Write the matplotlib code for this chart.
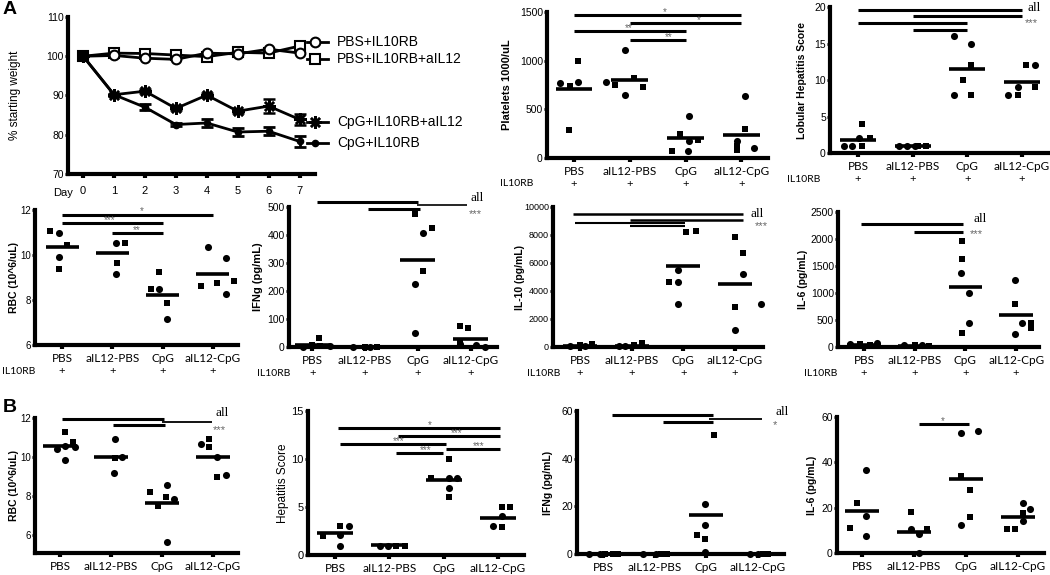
import numpy as np
import matplotlib
matplotlib.use('Agg')
import matplotlib.pyplot as plt

plt.rcParams['font.family'] = ['Liberation Sans', 'DejaVu Sans']

W, H = 1050, 575
groups = ['PBS', 'aIL12-PBS', 'CpG', 'aIL12-CpG']

# --- weight curve (% starting weight) ---
days = list(range(8))
wt_pbs = [100, 100.2, 99.5, 99.2, 100.8, 100.6, 101.8, 100.8]
wt_pbs_a12 = [100, 100.8, 100.7, 100.3, 99.9, 101.0, 100.8, 102.6]
wt_cpg_a12 = [100, 90.2, 91.1, 86.7, 90.1, 86.0, 87.3, 83.9]
wt_cpg_a12_err = [0, 0.3, 0.5, 0.4, 0.5, 0.4, 1.8, 1.5]
wt_cpg = [100, 90.2, 87.0, 82.6, 83.0, 80.7, 80.9, 78.3]
wt_cpg_err = [0, 0.3, 0.8, 0.3, 1.0, 1.0, 1.0, 1.5]
wt_labels = ['PBS+IL10RB', 'PBS+IL10RB+aIL12', 'CpG+IL10RB+aIL12', 'CpG+IL10RB']

# --- dot plots: per group lists of (x jitter, value) ---
plt_circ = [[(-0.25, 770), (0.08, 777)], [(-0.09, 1113), (-0.42, 777), (-0.09, 651)],
            [(0.05, 75), (0.06, 178), (0.06, 428)], [(0.06, 634), (-0.08, 171), (0.22, 103)]]
plt_sq = [[(-0.07, 736), (0.08, 993), (-0.09, 291)], [(-0.26, 753), (0.07, 822), (0.23, 726)],
          [(-0.25, 75), (-0.1, 247), (0.22, 182)], [(0.06, 298), (-0.08, 86), (-0.08, 125)]]
plt_mean = [712, 805, 205, 240]
plt_sig = [(0, 3, 1473, '*', 1.63, 2.2), (1, 3, 1387, '*', 2.23, 2.2),
           (0, 2, 1301, '**', 0.98, 2.2), (1, 2, 1216, '**', 1.69, 2.2)]

lob_circ = [[(-0.26, 1), (-0.1, 1), (0.02, 2)], [(-0.25, 1), (-0.1, 1), (0.05, 1)],
            [(-0.25, 16), (0.07, 15), (-0.25, 8)], [(0.24, 12), (-0.08, 9), (-0.25, 8)]]
lob_sq = [[(0.07, 4), (0.07, 1), (0.22, 2)], [(0.09, 1), (0.24, 1)],
          [(-0.08, 10), (0.07, 12), (0.07, 8)], [(0.08, 12), (0.24, 9), (-0.08, 8)]]
lob_mean = [1.8, 1.0, 11.5, 9.7]
lob_sig = [(0, 3, 19.6, '', 0, 2.2), (1, 3, 18.8, '', 0, 2.2),
           (0, 2, 17.8, '', 0, 2.2), (1, 2, 16.8, '', 0, 2.2)]
lob_notes = [(3.1, 19.9, 'all'), (3.05, 17.8, '***')]

rbcA_circ = [[(-0.07, 10.99), (-0.07, 9.9)], [(0.08, 10.52), (0.08, 9.16)],
             [(-0.07, 8.47), (0.09, 7.14)], [(-0.09, 10.37), (0.27, 9.85), (0.27, 8.27)]]
rbcA_sq = [[(-0.24, 11.08), (0.09, 10.44), (-0.07, 9.38)], [(0.25, 10.52), (0.09, 9.63)],
           [(-0.07, 9.26), (-0.23, 8.47), (0.08, 7.85)], [(-0.24, 8.62), (0.09, 8.77), (0.42, 8.86)]]
rbcA_mean = [10.37, 10.1, 8.22, 9.14]
rbcA_sig = [(0, 3, 11.8, '*', 1.58, 2.2), (0, 2, 11.44, '***', 0.95, 2.2), (1, 2, 10.96, '**', 1.49, 2.2)]

ifnA_circ = [[(-0.17, 0), (0.34, 2)], [(-0.22, 0), (0.1, 0)],
             [(0.1, 407), (-0.06, 225), (-0.06, 50)], [(-0.21, 10), (0.11, 8), (0.28, 0)]]
ifnA_sq = [[(0.12, 32), (0, 8), (0.14, 5)], [(0, 0), (0.22, 0)],
           [(-0.06, 475), (0.26, 425), (0.1, 273)], [(-0.21, 74), (-0.05, 69), (-0.21, 18)]]
ifnA_mean = [6, 1, 309, 30]
ifnA_sig = [(0.09, 2, 517, '', 0, 2.2), (1.98, 2.93, 508, '', 0, 1.2), (1.06, 2.04, 494, '', 0, 2.2)]
ifnA_notes = [(3.0, 532, 'all'), (2.97, 476, '***')]

il10_circ = [[(-0.19, 48), (0.1, 48)], [(-0.25, 48), (-0.12, 48)],
             [(-0.1, 5524), (-0.1, 4643), (-0.1, 3095)], [(0.16, 5238), (0.5, 3095), (0, 1238)]]
il10_sq = [[(0, 119), (0.23, 190)], [(0.04, 119), (0.2, 286)],
           [(0.06, 8214), (0.24, 8286), (-0.28, 4643)], [(0, 7857), (0.16, 6714), (0, 2857)]]
il10_mean = [80, 60, 5762, 4476]
il10_sig = [(-0.13, 3.15, 9524, '', 0, 1.8), (0.97, 3.15, 9095, '', 0, 1.8),
            (-0.1, 2.03, 8857, '', 0, 1.5), (0.97, 2.03, 8619, '', 0, 1.5)]
il10_notes = [(3.29, 9524, 'all'), (3.38, 8619, '***')]

il6A_circ = [[(-0.28, 49), (0.25, 80)], [(-0.21, 31), (0.15, 31)],
             [(-0.08, 1370), (0.08, 1000), (0.08, 444)], [(-0.02, 1246), (-0.03, 234), (0.12, 444)]]
il6A_sq = [[(-0.08, 49), (0.12, 31)], [(0, 31), (0.28, 12)],
           [(-0.07, 1956), (-0.07, 1635), (-0.07, 259)], [(-0.03, 790), (0.29, 444), (0.29, 352)]]
il6A_mean = [40, 20, 1111, 586]
il6A_sig = [(-0.05, 1.96, 2284, '', 0, 2.2), (0.99, 1.96, 2130, '', 0, 2.2)]
il6A_notes = [(2.16, 2375, 'all'), (2.09, 2098, '***')]

rbcB_circ = [[(0.1, 10.58), (-0.06, 10.41), (0.29, 10.51), (0.1, 9.86)], [(0.08, 10.92), (0.22, 10.0), (0.06, 9.18)],
             [(0.09, 8.53), (0.24, 7.81), (0.09, 5.62)], [(-0.24, 10.68), (0.08, 10.0), (0.25, 9.04)]]
rbcB_sq = [[(0.1, 11.28), (0.26, 10.75)], [(0.08, 9.95)],
           [(-0.24, 8.2), (0.07, 7.95), (-0.07, 7.47)], [(-0.07, 10.92), (-0.07, 10.51), (0.08, 8.97)]]
rbcB_mean = [10.55, 9.98, 7.61, 10.0]
rbcB_sig = [(0.03, 2.03, 11.97, '', 0, 2.2), (2.0, 2.99, 11.8, '', 0, 1.3), (1.03, 2.06, 11.62, '', 0, 2.2)]
rbcB_notes = [(3.04, 12.26, 'all'), (3.0, 11.4, '***')]

hep_circ = [[(0.25, 3.01), (0.09, 2.08), (0.09, 0.97)], [(-0.18, 0.97), (-0.02, 0.97)],
            [(0.09, 8.06), (0.25, 8.06), (0.09, 7.02)], [(0.07, 4.05), (-0.09, 3.01)]]
hep_sq = [[(-0.22, 1.97), (0.09, 3.01)], [(0.13, 0.97), (0.28, 0.97)],
          [(0.09, 9.97), (-0.24, 8.06), (0.09, 5.99)], [(0.07, 5.02), (0.22, 5.02), (0.07, 2.94)]]
hep_mean = [2.32, 1.0, 7.85, 3.88]
hep_sig = [(0.06, 3.04, 13.27, '*', 1.75, 2.2), (1.16, 3.04, 12.39, '***', 2.24, 2.2),
           (0.09, 2.05, 11.54, '***', 1.17, 2.2), (2.04, 3.04, 11.0, '***', 2.64, 2.2),
           (1.12, 1.99, 10.66, '***', 1.66, 2.2)]

ifnB_circ = [[(-0.27, 0), (-0.05, 0)], [(-0.23, 0), (0.03, 0)],
             [(-0.02, 20.9), (-0.02, 12.3), (-0.02, 0.7)], [(-0.15, 0), (0.0, 0)]]
ifnB_sq = [[(0.05, 0), (0.2, 0), (0.3, 0)], [(0.13, 0), (0.23, 0)],
           [(0.15, 50.1), (-0.18, 8.1), (-0.02, 6.3)], [(0.1, 0), (0.2, 0)]]
ifnB_mean = [0, 0, 16.4, 0]
ifnB_sig = [(0.17, 2.13, 58.5, '', 0, 2.2), (2.06, 3.07, 56.5, '', 0, 1.3), (1.16, 2.13, 55.4, '', 0, 2.2)]
ifnB_notes = [(3.33, 59.6, 'all'), (3.29, 54, '*')]

il6B_circ = [[(0.08, 36.8), (0.08, 16.5), (0.08, 7.6)], [(-0.06, 10.5), (0.1, 8.5), (0.1, 0)],
             [(-0.1, 52.8), (0.23, 54), (-0.1, 12.3)], [(0.09, 22.2), (0.24, 19.3), (0.09, 14.3)]]
il6B_sq = [[(-0.09, 22.2), (-0.23, 10.9)], [(-0.06, 18.2), (0.26, 10.5)],
           [(-0.1, 33.9), (0.07, 27.7), (0.07, 16.1)], [(-0.22, 10.8), (-0.06, 10.8), (0.09, 17.5)]]
il6B_mean = [18.7, 9.3, 32.8, 16.1]
il6B_sig = [(1.1, 2.06, 56.9, '*', 1.56, 2.2)]

fig = plt.figure(figsize=(W / 100, H / 100), dpi=100)


def add_ax(l, t, r, b):
    return fig.add_axes([l / W, 1 - b / H, (r - l) / W, (b - t) / H])


def style_ax(ax, ysize=7.5):
    for s in ['top', 'right']:
        ax.spines[s].set_visible(False)
    for s in ['left', 'bottom']:
        ax.spines[s].set_linewidth(3)
    ax.tick_params(axis='y', length=2.5, width=2, pad=0.5, labelsize=ysize)
    ax.tick_params(axis='x', length=3, width=3, pad=2.5, labelsize=8.5)
    ax.patch.set_visible(False)


def flat(pts):
    xs = [g + dx for g, grp in enumerate(pts) for dx, v in grp]
    ys = [v for grp in pts for dx, v in grp]
    return xs, ys


def dot_panel(box, xlim, ylim, yticks, ylabel, lab_dist, circ, sq, means, sig,
              notes=(), il10rb=None, lab_size=8, lab_weight='bold', ysize=7.5):
    ax = add_ax(*box)
    style_ax(ax, ysize)
    xc, yc = flat(circ)
    xs, ys = flat(sq)
    ax.scatter(xc, yc, s=26, marker='o', color='k', lw=0, clip_on=False, zorder=4)
    ax.scatter(xs, ys, s=24, marker='s', color='k', lw=0, clip_on=False, zorder=4)
    g = np.arange(len(means))
    ax.hlines(means, g - 0.33, g + 0.33, color='k', lw=2.6, zorder=3)
    for x1, x2, y, lab, lx, lw in sig:
        ax.plot([x1, x2], [y, y], color='k', lw=lw, clip_on=False, solid_capstyle='butt')
        if lab:
            ax.annotate(lab, (lx, y), xytext=(0, 3), textcoords='offset pixels',
                        ha='center', va='center', fontsize=7, color='#666666')
    for x, y, t in notes:
        if t == 'all':
            ax.text(x, y, t, family='Liberation Serif', fontsize=9.5, ha='left', va='center')
        else:
            ax.text(x, y, t, fontsize=8, color='#666666', ha='left', va='center')
    ax.set_xlim(xlim)
    ax.set_ylim(ylim)
    ax.set_yticks(yticks)
    ax.set_xticks(range(4))
    ax.set_xticklabels(groups, family='Lato')
    if il10rb is not None:
        # il10rb = horizontal shift (px) of the row label's right edge from the y axis
        for i in range(4):
            ax.annotate('+', (i, 0), xycoords=('data', 'axes fraction'), xytext=(0, -26),
                        textcoords='offset pixels', ha='center', va='center', fontsize=8)
        ax.annotate('IL10RB', (0, 0), xycoords='axes fraction', xytext=(il10rb, -26),
                    textcoords='offset pixels', ha='right', va='center', fontsize=7.5, family='Lato')
    ax.set_ylabel(ylabel, fontsize=lab_size, fontweight=lab_weight, va='center')
    ax.yaxis.set_label_coords(-lab_dist / (box[2] - box[0]), 0.5)
    return ax


# weight panel
ax = add_ax(68, 17, 315, 174)
style_ax(ax, 7.5)
ax.plot(days, wt_pbs_a12, marker='s', mfc='white', mec='k', ms=6.5, mew=1.5, lw=2, color='k', zorder=3)
ax.plot(days, wt_pbs, marker='o', mfc='white', mec='k', ms=7, mew=1.5, lw=2, color='k', zorder=3)
ax.errorbar(days, wt_cpg_a12, yerr=wt_cpg_a12_err, marker=(8, 2, 0), ms=9, mew=1.8,
            color='k', lw=2, capsize=4, capthick=2, zorder=3)
ax.errorbar(days, wt_cpg, yerr=wt_cpg_err, marker='o', ms=4.5, color='k', lw=2,
            capsize=4, capthick=2, zorder=3)
ax.set_xlim(-0.49, 7.5)
ax.set_ylim(70, 110)
ax.set_yticks([70, 80, 90, 100, 110])
ax.set_xticks(days)
ax.tick_params(axis='x', labelsize=8, pad=6)
ax.set_ylabel('% starting weight', fontsize=8.5, va='center')
ax.yaxis.set_label_coords(-53 / 247, 0.5)
ax.annotate('Day', (0, 0), xycoords='axes fraction', xytext=(-5, -19), textcoords='offset pixels',
            ha='center', va='center', fontsize=8)
leg_styles = [dict(marker='o', mfc='white', ms=7, mew=1.5),
              dict(marker='s', mfc='white', ms=6.5, mew=1.5),
              dict(marker=(8, 2, 0), ms=9, mew=1.8),
              dict(marker='o', ms=4.5)]
leg_y = [0.84, 0.733, 0.331, 0.197]
for lab, st, fy in zip(wt_labels, leg_styles, leg_y):
    ax.plot([0.968, 1.0, 1.053], [fy] * 3, transform=ax.transAxes, clip_on=False, color='k',
            mec='k', lw=2, markevery=[1], **st)
    ax.text(1.09, fy, lab, transform=ax.transAxes, fontsize=10, va='center', ha='left')

dot_panel((547, 12, 768, 158), (-0.485, 3.48), (0, 1500), [0, 500, 1000, 1500],
          'Platelets 1000/uL', 40, plt_circ, plt_sq, plt_mean, plt_sig, il10rb=-14)
dot_panel((830, 7, 1050, 153), (-0.51, 3.51), (0, 20), [0, 5, 10, 15, 20],
          'Lobular Hepatitis Score', 28, lob_circ, lob_sq, lob_mean, lob_sig, lob_notes,
          il10rb=-10, lab_size=7.5)
dot_panel((35, 210, 238, 345), (-0.54, 3.5), (6, 12), [6, 8, 10, 12],
          'RBC (10^6/uL)', 21, rbcA_circ, rbcA_sq, rbcA_mean, rbcA_sig, il10rb=0,
          lab_size=7.5, ysize=7)
dot_panel((289, 207, 497, 347), (-0.44, 3.5), (0, 500), [0, 100, 200, 300, 400, 500],
          'IFNg (pg/mL)', 31, ifnA_circ, ifnA_sq, ifnA_mean, ifnA_sig, ifnA_notes, il10rb=1)
dot_panel((553, 207, 763, 347), (-0.52, 3.54), (0, 10000), [0, 2000, 4000, 6000, 8000, 10000],
          'IL-10 (pg/mL)', 33, il10_circ, il10_sq, il10_mean, il10_sig, il10_notes, il10rb=7,
          lab_size=7.5, ysize=6.5)
dot_panel((838, 212, 1039, 347), (-0.51, 3.45), (0, 2500), [0, 500, 1000, 1500, 2000, 2500],
          'IL-6 (pg/mL)', 35, il6A_circ, il6A_sq, il6A_mean, il6A_sig, il6A_notes, il10rb=-1,
          lab_size=7.5)
dot_panel((35, 418, 238, 553), (-0.49, 3.49), (5.05, 12), [6, 8, 10, 12],
          'RBC (10^6/uL)', 21, rbcB_circ, rbcB_sq, rbcB_mean, rbcB_sig, rbcB_notes,
          lab_size=7.5, ysize=7)
dot_panel((308, 411, 524, 555), (-0.5, 3.48), (0, 15), [0, 5, 10, 15],
          'Hepatitis Score', 25, hep_circ, hep_sq, hep_mean, hep_sig,
          lab_size=8.5, lab_weight='normal', ysize=8)
dot_panel((577, 411, 784, 554), (-0.5, 3.5), (0, 60), [0, 20, 40, 60],
          'IFNg (pg/mL)', 29, ifnB_circ, ifnB_sq, ifnB_mean, ifnB_sig, ifnB_notes, lab_size=7.5)
dot_panel((837, 417, 1044, 553), (-0.48, 3.5), (0, 60), [0, 20, 40, 60],
          'IL-6 (pg/mL)', 25, il6B_circ, il6B_sq, il6B_mean, il6B_sig, lab_size=7.5)

fig.text(3 / W, 1 - 9 / H, 'A', fontsize=14, fontweight='bold', va='center', ha='left')
fig.text(3 / W, 1 - 407 / H, 'B', fontsize=14, fontweight='bold', va='center', ha='left')

fig.savefig('out.png', dpi=100)
